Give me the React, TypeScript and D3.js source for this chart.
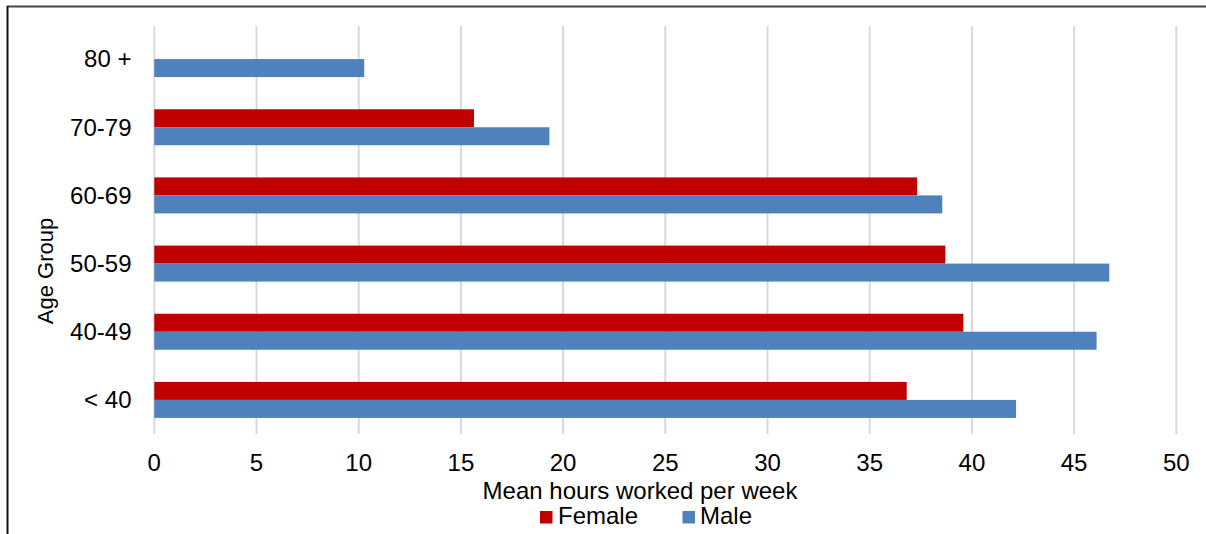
import React from 'react'
import * as d3 from 'd3'

const ageGroups = ['80 +', '70-79', '60-69', '50-59', '40-49', '< 40']
const seriesNames = ['Female', 'Male']
const femaleHours: (number | null)[] = [null, 15.64, 37.32, 38.7, 39.58, 36.81]
const maleHours: (number | null)[] = [10.27, 19.33, 38.55, 46.72, 46.1, 42.16]
const xTicks = [0, 5, 10, 15, 20, 25, 30, 35, 40, 45, 50]

const colors: Record<string, string> = { Female: '#c00000', Male: '#4f81bd' }
const font = '"Liberation Sans", Arial, sans-serif'

const App: React.FC = () => {
    const width = 1206
    const height = 534

    const x = d3.scaleLinear().domain([0, 50]).range([154.3, 1176.3])
    const y = d3.scaleBand<string>().domain(ageGroups).range([25, 434]).padding(0)
    const bw = y.bandwidth()
    const inner = d3.scaleBand<string>().domain(seriesNames).range([bw * 0.236, bw * 0.764])

    const rows = ageGroups.map((g, i) => ({ group: g, Female: femaleHours[i], Male: maleHours[i] }))

    return (
        <svg width={width} height={height} style={{ position: 'absolute', left: 0, top: 0, background: '#fff' }}
            fontFamily={font}>
            {/* frame */}
            <line x1={7} x2={width} y1={6.5} y2={6.5} stroke="#444" strokeWidth={2} />
            <line x1={7.5} x2={7.5} y1={6} y2={height} stroke="#111" strokeWidth={2} />

            {/* gridlines */}
            {xTicks.map(t => (
                <line key={t} x1={x(t)} x2={x(t)} y1={26} y2={434} stroke="#d9d9d9" strokeWidth={2} />
            ))}

            {/* bars */}
            {rows.map(r => (
                <g key={r.group} transform={`translate(0,${y(r.group)})`}>
                    {seriesNames.map(s => {
                        const v = (r as any)[s] as number | null
                        if (v == null) return null
                        return <rect key={s} x={x(0)} y={inner(s)} width={x(v) - x(0)} height={inner.bandwidth()}
                            fill={colors[s]} />
                    })}
                </g>
            ))}

            {/* category labels */}
            {ageGroups.map(g => (
                <text key={g} x={131.5} y={(y(g) as number) + bw / 2} dy="0.35em" textAnchor="end"
                    fontSize={24} fill="#000">{g}</text>
            ))}

            {/* x tick labels */}
            {xTicks.map(t => (
                <text key={t} x={x(t)} y={471} textAnchor="middle" fontSize={24} fill="#000">{t}</text>
            ))}

            {/* axis titles */}
            <text x={640} y={499} textAnchor="middle" fontSize={24} fill="#000">
                Mean hours worked per week
            </text>
            <text transform="translate(53,271) rotate(-90)" textAnchor="middle" fontSize={22} fill="#000">
                Age Group
            </text>

            {/* legend */}
            <rect x={540} y={511} width={12.5} height={12.5} fill={colors.Female} />
            <text x={558} y={524} fontSize={24} fill="#000">Female</text>
            <rect x={682.5} y={511} width={12.5} height={12.5} fill={colors.Male} />
            <text x={700} y={524} fontSize={24} fill="#000">Male</text>
        </svg>
    )
}

export default App
